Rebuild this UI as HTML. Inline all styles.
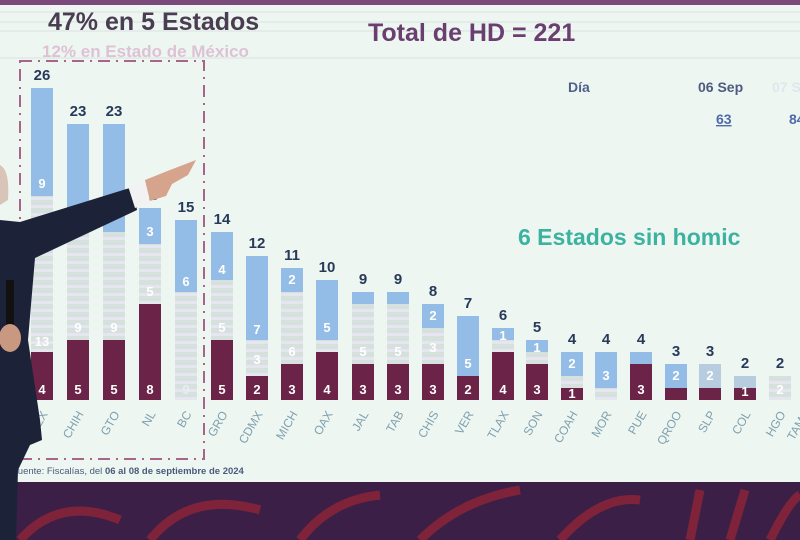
<!DOCTYPE html>
<html><head><meta charset="utf-8"><style>
html,body{margin:0;padding:0;width:800px;height:540px;overflow:hidden;background:#eef6f1;}
svg{display:block;font-family:"Liberation Sans",sans-serif;}
</style></head><body>
<svg width="800" height="540" viewBox="0 0 800 540">
<defs>
<pattern id="st" width="10" height="8" patternUnits="userSpaceOnUse">
<rect width="10" height="8" fill="#d6e0dc"/><rect y="5" width="10" height="3" fill="#e6e6f0"/>
</pattern>
</defs>
<rect width="800" height="540" fill="#eef6f1"/>
<rect width="800" height="5" fill="#7a4a7a"/>
<g stroke="#dfe9e5" stroke-width="1.5">
<line x1="0" y1="12" x2="800" y2="12"/><line x1="0" y1="22" x2="800" y2="22"/><line x1="0" y1="31" x2="800" y2="31"/><line x1="0" y1="58" x2="800" y2="58"/>
</g>
<text x="48" y="30" font-size="25" font-weight="bold" fill="#4a3d52">47% en 5 Estados</text>
<text x="368" y="41" font-size="25" font-weight="bold" fill="#6a3f70">Total de HD = 221</text>
<text x="42" y="57" font-size="17" font-weight="bold" fill="#ddc2d6">12% en Estado de México</text>
<text x="568" y="92" font-size="14" font-weight="bold" fill="#4f5f90">Día</text>
<text x="698" y="92" font-size="14" font-weight="bold" fill="#4f5a80">06 Sep</text>
<text x="772" y="92" font-size="14" font-weight="bold" fill="#e0e6ee">07 S</text>
<text x="716" y="124" font-size="14" font-weight="bold" fill="#4f6aa8" text-decoration="underline">63</text>
<text x="789" y="124" font-size="14" font-weight="bold" fill="#4f6aa8">84</text>
<text x="518" y="245" font-size="23" font-weight="bold" fill="#3bb3a0">6 Estados sin homic</text>

<g id="bars">
<g fill="#6b2347">
<rect x="31" y="352" width="22" height="48"/><rect x="67" y="340" width="22" height="60"/><rect x="103" y="340" width="22" height="60"/><rect x="139" y="304" width="22" height="96"/>
<rect x="211" y="340" width="22" height="60"/><rect x="246" y="376" width="22" height="24"/><rect x="281" y="364" width="22" height="36"/><rect x="316" y="352" width="22" height="48"/>
<rect x="352" y="364" width="22" height="36"/><rect x="387" y="364" width="22" height="36"/><rect x="422" y="364" width="22" height="36"/><rect x="457" y="376" width="22" height="24"/>
<rect x="492" y="352" width="22" height="48"/><rect x="526" y="364" width="22" height="36"/><rect x="561" y="388" width="22" height="12"/><rect x="630" y="364" width="22" height="36"/>
<rect x="665" y="388" width="22" height="12"/><rect x="699" y="388" width="22" height="12"/><rect x="734" y="388" width="22" height="12"/>
</g>
<g fill="url(#st)">
<rect x="31" y="196" width="22" height="156"/><rect x="67" y="232" width="22" height="108"/><rect x="103" y="232" width="22" height="108"/><rect x="139" y="244" width="22" height="60"/>
<rect x="175" y="292" width="22" height="108"/><rect x="211" y="280" width="22" height="60"/><rect x="246" y="340" width="22" height="36"/><rect x="281" y="292" width="22" height="72"/>
<rect x="316" y="340" width="22" height="12"/><rect x="352" y="304" width="22" height="60"/><rect x="387" y="304" width="22" height="60"/><rect x="422" y="328" width="22" height="36"/>
<rect x="492" y="340" width="22" height="12"/><rect x="526" y="352" width="22" height="12"/><rect x="561" y="376" width="22" height="12"/><rect x="595" y="388" width="22" height="12"/>
<rect x="769" y="376" width="22" height="24"/>
</g>
<g fill="#93bce6">
<rect x="31" y="88" width="22" height="108"/><rect x="67" y="124" width="22" height="108"/><rect x="103" y="124" width="22" height="108"/><rect x="139" y="208" width="22" height="36"/>
<rect x="175" y="220" width="22" height="72"/><rect x="211" y="232" width="22" height="48"/><rect x="246" y="256" width="22" height="84"/><rect x="281" y="268" width="22" height="24"/>
<rect x="316" y="280" width="22" height="60"/><rect x="352" y="292" width="22" height="12"/><rect x="387" y="292" width="22" height="12"/><rect x="422" y="304" width="22" height="24"/>
<rect x="457" y="316" width="22" height="60"/><rect x="492" y="328" width="22" height="12"/><rect x="526" y="340" width="22" height="12"/><rect x="561" y="352" width="22" height="24"/>
<rect x="595" y="352" width="22" height="36"/><rect x="630" y="352" width="22" height="12"/><rect x="665" y="364" width="22" height="24"/><rect x="699" y="364" width="22" height="24" fill="#b8cce0"/>
<rect x="734" y="376" width="22" height="12" fill="#b8cce0"/>
</g>
<g font-size="13" font-weight="bold" fill="#fff" text-anchor="middle">
<text x="42" y="188">9</text><text x="42" y="346">13</text><text x="42" y="394">4</text>
<text x="78" y="332">9</text><text x="78" y="394">5</text>
<text x="114" y="332">9</text><text x="114" y="394">5</text>
<text x="150" y="236">3</text><text x="150" y="296">5</text><text x="150" y="394">8</text>
<text x="186" y="286">6</text><text x="186" y="394" fill="#e8eef0">9</text>
<text x="222" y="274">4</text><text x="222" y="332">5</text><text x="222" y="394">5</text>
<text x="257" y="334">7</text><text x="257" y="364">3</text><text x="257" y="394">2</text>
<text x="292" y="284">2</text><text x="292" y="356">6</text><text x="292" y="394">3</text>
<text x="327" y="332">5</text><text x="327" y="394">4</text>
<text x="363" y="356">5</text><text x="363" y="394">3</text>
<text x="398" y="356">5</text><text x="398" y="394">3</text>
<text x="433" y="320">2</text><text x="433" y="352">3</text><text x="433" y="394">3</text>
<text x="468" y="368">5</text><text x="468" y="394">2</text>
<text x="503" y="340">1</text><text x="503" y="394">4</text>
<text x="537" y="352">1</text><text x="537" y="394">3</text>
<text x="572" y="368">2</text><text x="572" y="398">1</text>
<text x="606" y="380">3</text><text x="641" y="394">3</text>
<text x="676" y="380">2</text><text x="710" y="380">2</text><text x="745" y="396">1</text><text x="780" y="394">2</text>
</g>
<g font-size="15" font-weight="bold" fill="#283a5a" text-anchor="middle">
<text x="42" y="80">26</text><text x="78" y="116">23</text><text x="114" y="116">23</text><text x="150" y="200">16</text><text x="186" y="212">15</text>
<text x="222" y="224">14</text><text x="257" y="248">12</text><text x="292" y="260">11</text><text x="327" y="272">10</text><text x="363" y="284">9</text>
<text x="398" y="284">9</text><text x="433" y="296">8</text><text x="468" y="308">7</text><text x="503" y="320">6</text><text x="537" y="332">5</text>
<text x="572" y="344">4</text><text x="606" y="344">4</text><text x="641" y="344">4</text><text x="676" y="356">3</text><text x="710" y="356">3</text>
<text x="745" y="368">2</text><text x="780" y="368">2</text>
</g>
<g font-size="12" fill="#7fa0ae" text-anchor="end">
<text transform="translate(48,414) rotate(-60)">MEX</text>
<text transform="translate(84,414) rotate(-60)">CHIH</text>
<text transform="translate(120,414) rotate(-60)">GTO</text>
<text transform="translate(156,414) rotate(-60)">NL</text>
<text transform="translate(192,414) rotate(-60)">BC</text>
<text transform="translate(228,414) rotate(-60)">GRO</text>
<text transform="translate(263,414) rotate(-60)">CDMX</text>
<text transform="translate(298,414) rotate(-60)">MICH</text>
<text transform="translate(333,414) rotate(-60)">OAX</text>
<text transform="translate(369,414) rotate(-60)">JAL</text>
<text transform="translate(404,414) rotate(-60)">TAB</text>
<text transform="translate(439,414) rotate(-60)">CHIS</text>
<text transform="translate(474,414) rotate(-60)">VER</text>
<text transform="translate(509,414) rotate(-60)">TLAX</text>
<text transform="translate(543,414) rotate(-60)">SON</text>
<text transform="translate(578,414) rotate(-60)">COAH</text>
<text transform="translate(612,414) rotate(-60)">MOR</text>
<text transform="translate(647,414) rotate(-60)">PUE</text>
<text transform="translate(682,414) rotate(-60)">QROO</text>
<text transform="translate(716,414) rotate(-60)">SLP</text>
<text transform="translate(751,414) rotate(-60)">COL</text>
<text transform="translate(786,414) rotate(-60)">HGO</text>
<text transform="translate(806,420) rotate(-60)">TAM</text>
</g>
</g>
<rect x="20" y="61" width="184" height="398" fill="none" stroke="#a8648a" stroke-width="2" stroke-dasharray="12,6,2,6"/>
<text x="12" y="474" font-size="9.5" fill="#4a5a7a">Fuente: Fiscalías, del <tspan font-weight="bold">06 al 08 de septiembre de 2024</tspan></text>

<rect x="0" y="482" width="800" height="58" fill="#3c1f46"/>
<g stroke="#8a2438" stroke-width="9" fill="none" opacity="0.85">
<path d="M20 540 Q60 495 120 520"/><path d="M150 540 Q190 490 260 510"/><path d="M300 540 Q330 500 380 495"/>
<path d="M420 540 Q460 500 520 490"/><path d="M560 540 Q600 495 640 500"/><path d="M690 540 L700 490"/><path d="M730 540 L745 490"/><path d="M770 540 Q790 500 800 495"/>
</g>

<g>
<path d="M0 165 Q10 170 8 200 L0 205 Z" fill="#d9c4b8"/>
<polygon points="0,220 20,222 133,187 137,210 35,258 28,340 40,420 42,440 30,445 18,470 16,540 0,540" fill="#1c2238"/>
<polygon points="128,186 146,181 150,203 135,208" fill="#f2f2f2"/>
<polygon points="145,180 170,170 196,160 188,175 172,184 166,196 150,201" fill="#d6a48c"/>
<rect x="6" y="280" width="8" height="60" fill="#111"/>
<ellipse cx="10" cy="338" rx="11" ry="14" fill="#c99880"/>
</g>
</svg>
</body></html>
